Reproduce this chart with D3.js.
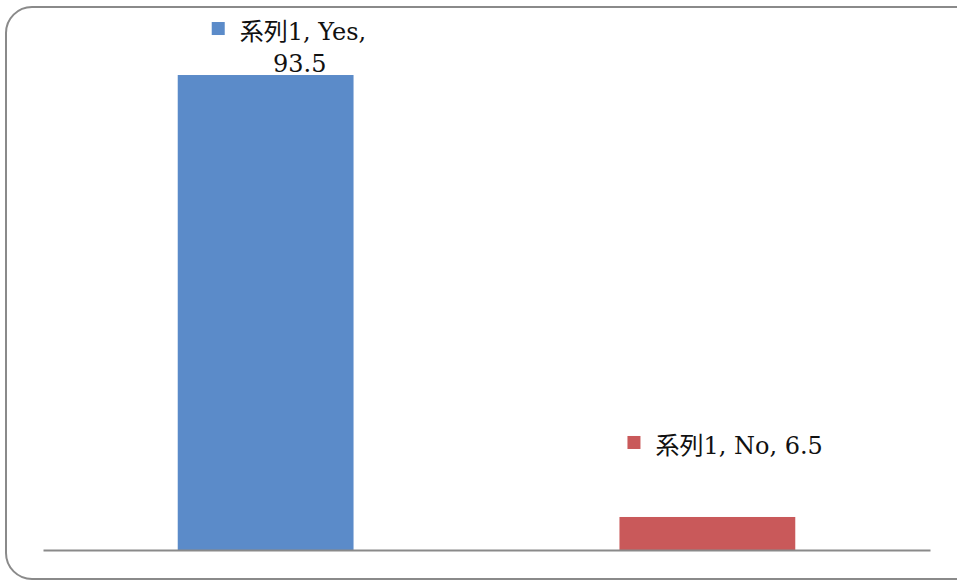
<!DOCTYPE html>
<html>
<head>
<meta charset="utf-8">
<script src="https://cdn.jsdelivr.net/npm/d3@7"></script>
<style>
  body { margin: 0; background: #fff; }
  svg { display: block; }
</style>
</head>
<body>
<svg></svg>
<script>
const categories = ["Yes", "No"];
const values = [93.5, 6.5];
const seriesName = "系列1";
const colors = ["#5b8bc9", "#c9595a"];

const width = 957, height = 582;
const margin = { top: 42, right: 27, bottom: 32, left: 43 };

const svg = d3.select("svg")
    .attr("width", width)
    .attr("height", height);

// outer rounded frame
svg.append("rect")
    .attr("x", 6)
    .attr("y", 7)
    .attr("width", 975)
    .attr("height", 572)
    .attr("rx", 26)
    .attr("fill", "#fff")
    .attr("stroke", "#8a8a8a")
    .attr("stroke-width", 2);

const x = d3.scaleBand()
    .domain(categories)
    .range([margin.left, width - margin.right])
    .paddingInner(0.602)
    .paddingOuter(0.305);

const y = d3.scaleLinear()
    .domain([0, 100])
    .range([height - margin.bottom, margin.top]);

svg.selectAll(".bar")
    .data(categories)
    .enter()
    .append("rect")
    .attr("class", "bar")
    .attr("x", d => x(d))
    .attr("y", (d, i) => y(values[i]))
    .attr("width", x.bandwidth())
    .attr("height", (d, i) => y(0) - y(values[i]))
    .attr("fill", (d, i) => colors[i]);

// category axis line only
svg.append("g")
    .attr("transform", `translate(0,${y(0)})`)
    .call(d3.axisBottom(x).tickSize(0).tickFormat(""))
    .call(g => g.select(".domain").attr("stroke", "#8a8a8a").attr("stroke-width", 2));

const font = "'DejaVu Serif', 'Noto Sans CJK JP', serif";

// data labels
const labels = [
    { lines: [`${seriesName}, ${categories[0]},`, `${values[0]}`], dx: 34, dy: -35 },
    { lines: [`${seriesName}, ${categories[1]}, ${values[1]}`], dx: 8, dy: -63 }
];

labels.forEach((lab, i) => {
    const cat = categories[i];
    const lx = x(cat) + lab.dx;
    const ly = y(values[i]) + lab.dy;
    const g = svg.append("g").attr("transform", `translate(${lx},${ly})`);
    g.append("rect")
        .attr("x", 0)
        .attr("y", -18)
        .attr("width", 13)
        .attr("height", 13)
        .attr("fill", colors[i]);
    const t = g.append("text")
        .attr("font-family", font)
        .attr("font-size", 24)
        .attr("fill", "#111");
    t.append("tspan")
        .attr("x", 28)
        .attr("y", 0)
        .text(lab.lines[0]);
    if (lab.lines.length > 1) {
        t.append("tspan")
            .attr("x", 88)
            .attr("y", 32)
            .attr("text-anchor", "middle")
            .text(lab.lines[1]);
    }
});
</script>
</body>
</html>
